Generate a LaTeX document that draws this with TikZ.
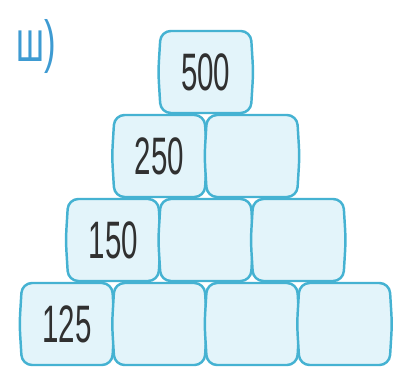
\documentclass[tikz,border=0pt]{standalone}
\usepackage{fontspec}
\setmainfont{Liberation Sans}
\definecolor{brickline}{HTML}{45B2D2}
\definecolor{brickfill}{HTML}{E3F4FA}
\definecolor{labelblue}{HTML}{3E9BD2}
\definecolor{digitgray}{HTML}{303030}

\begin{document}
\begin{tikzpicture}[x=0.02cm, y=0.02cm,
		brick/.style={draw=brickline, fill=brickfill, line width=1.4pt, rounded corners=0.2cm},
		num/.style={text=digitgray, font=\fontsize{30}{30}\selectfont, xscale=0.56, inner sep=0pt},
		tag/.style={text=labelblue, font=\fontsize{33}{33}\selectfont, xscale=0.6, inner sep=0pt, anchor=base west}
		]
		\useasboundingbox (0,0) rectangle (395,372);
		
		% ======================
		% Label
		% ======================
		\node[tag] (lbl) at (16,310) {ш)};
		
		% ======================
		% Pyramid of bricks
		% ======================
		\foreach \r/\n/\v in {0/4/125, 1/3/150, 2/2/250, 3/1/500} {
			\foreach \i in {1,...,\n} {
				\pgfmathsetmacro{\cx}{67+46.25*\r+92.5*(\i-1)}
				\pgfmathsetmacro{\cy}{48+84*\r}
				\filldraw[brick] (\cx,\cy+41) -- (\cx+45,\cy+41) -- (\cx+47.5,\cy)
					-- (\cx+45,\cy-41) -- (\cx-45,\cy-41) -- (\cx-47.5,\cy)
					-- (\cx-45,\cy+41) -- cycle;
				\node[num] (b\r\i) at (\cx,\cy) {\ifnum\i=1 \v\fi};
			}
		}
		
	\end{tikzpicture}
\end{document}
